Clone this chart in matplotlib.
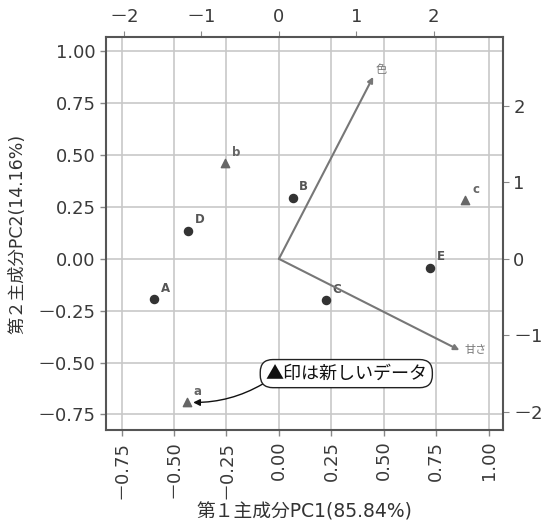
import matplotlib
matplotlib.use("Agg")
import matplotlib.pyplot as plt

plt.rcParams['font.family'] = ['DejaVu Sans', 'Noto Sans CJK JP']
cjk = ['Noto Sans CJK JP', 'DejaVu Sans']

# sample scores (PC1, PC2)
names = ['A', 'B', 'C', 'D', 'E']
pc1 = [-0.595, 0.065, 0.224, -0.432, 0.719]
pc2 = [-0.194, 0.294, -0.199, 0.135, -0.043]

# new data
new_names = ['a', 'b', 'c']
new_pc1 = [-0.44, -0.257, 0.886]
new_pc2 = [-0.692, 0.46, 0.283]

# loadings
var_names = ['色', '甘さ']
load_pc1 = [0.449, 0.860]
load_pc2 = [0.877, -0.44]

scale = 2.71  # top / right axis scale
xticks = [-0.75, -0.5, -0.25, 0.0, 0.25, 0.5, 0.75, 1.0]
yticks = [-0.75, -0.5, -0.25, 0.0, 0.25, 0.5, 0.75, 1.0]
sec_ticks = [-2, -1, 0, 1, 2]


def fmt(v, nd):
    s = f'{abs(v):.{nd}f}'
    return '\uff0d' + s if v < 0 else s


fig = plt.figure(figsize=(5.52, 5.26), dpi=100)
ax = fig.add_axes([0.192, 0.182, 0.719, 0.748])
ax.set_xlim(-0.824, 1.067)
ax.set_ylim(-0.826, 1.07)
ax.set_xticks(xticks)
ax.set_yticks(yticks)
ax.set_xticklabels([fmt(v, 2) for v in xticks], rotation=90)
ax.set_yticklabels([fmt(v, 2) for v in yticks])
ax.grid(True, color='#c8c8c8', lw=1.2)
ax.set_axisbelow(True)
for s in ax.spines.values():
    s.set_color('#555555')
    s.set_linewidth(1.5)
ax.tick_params(labelsize=13, colors='#3a3a3a', length=4, width=1)
ax.tick_params(color='#888888')

ax.scatter(pc1, pc2, s=34, color='#333333', zorder=3)
for n, x, y in zip(names, pc1, pc2):
    ax.annotate(n, (x, y), xytext=(8, 8), textcoords='offset points',
                ha='center', va='center', fontsize=8.5, color='#555555', fontweight='bold')

ax.scatter(new_pc1, new_pc2, s=36, marker='^', color='#666666', zorder=3)
for n, x, y in zip(new_names, new_pc1, new_pc2):
    ax.annotate(n, (x, y), xytext=(8, 8), textcoords='offset points',
                ha='center', va='center', fontsize=8.5, color='#666666', fontweight='bold')

for x, y in zip(load_pc1, load_pc2):
    ax.annotate('', xy=(x, y), xytext=(0, 0),
                arrowprops=dict(arrowstyle='-|>', color='#777777', lw=1.5,
                                mutation_scale=8, shrinkA=0, shrinkB=0))
ax.annotate(var_names[0], (load_pc1[0], load_pc2[0]), xytext=(6, 5), textcoords='offset points',
            ha='center', va='center', fontsize=8, color='#777777', family=cjk)
ax.annotate(var_names[1], (load_pc1[1], load_pc2[1]), xytext=(4, 0), textcoords='offset points',
            ha='left', va='center', fontsize=8, color='#777777', family=cjk)

ax.annotate('▲印は新しいデータ', xy=(new_pc1[0] + 0.025, new_pc2[0]), xytext=(0.321, -0.553),
            ha='center', va='center', fontsize=13, color='#111111', family=cjk,
            bbox=dict(boxstyle='round,pad=0.28,rounding_size=0.7', fc='white', ec='#222222', lw=1),
            arrowprops=dict(arrowstyle='-|>', color='#111111', lw=1, mutation_scale=10,
                            connectionstyle='arc3,rad=-0.15', relpos=(0.02, 0.12),
                            shrinkA=0, shrinkB=1))

top = ax.secondary_xaxis('top', functions=(lambda x: x * scale, lambda x: x / scale))
top.set_xticks(sec_ticks)
top.set_xticklabels([fmt(v, 0) for v in sec_ticks])
top.tick_params(labelsize=13, colors='#3a3a3a', length=4)
top.tick_params(color='#888888')
right = ax.secondary_yaxis('right', functions=(lambda y: y * scale, lambda y: y / scale))
right.set_yticks(sec_ticks)
right.set_yticklabels([fmt(v, 0) for v in sec_ticks])
right.tick_params(labelsize=13, colors='#3a3a3a', length=4)
right.tick_params(color='#888888')
for sp in list(top.spines.values()) + list(right.spines.values()):
    sp.set_visible(False)

ax.set_xlabel('第１主成分PC1(85.84%)', fontsize=13.5, color='#333333')
ax.set_ylabel('第２主成分PC2(14.16%)', fontsize=12.5, color='#333333')
ax.xaxis.set_label_coords(0.5, -0.208)
ax.xaxis.label.set_va('center')
ax.yaxis.set_label_coords(-0.222, 0.5)
ax.yaxis.label.set_va('center')

fig.savefig('out.png', dpi=100)
